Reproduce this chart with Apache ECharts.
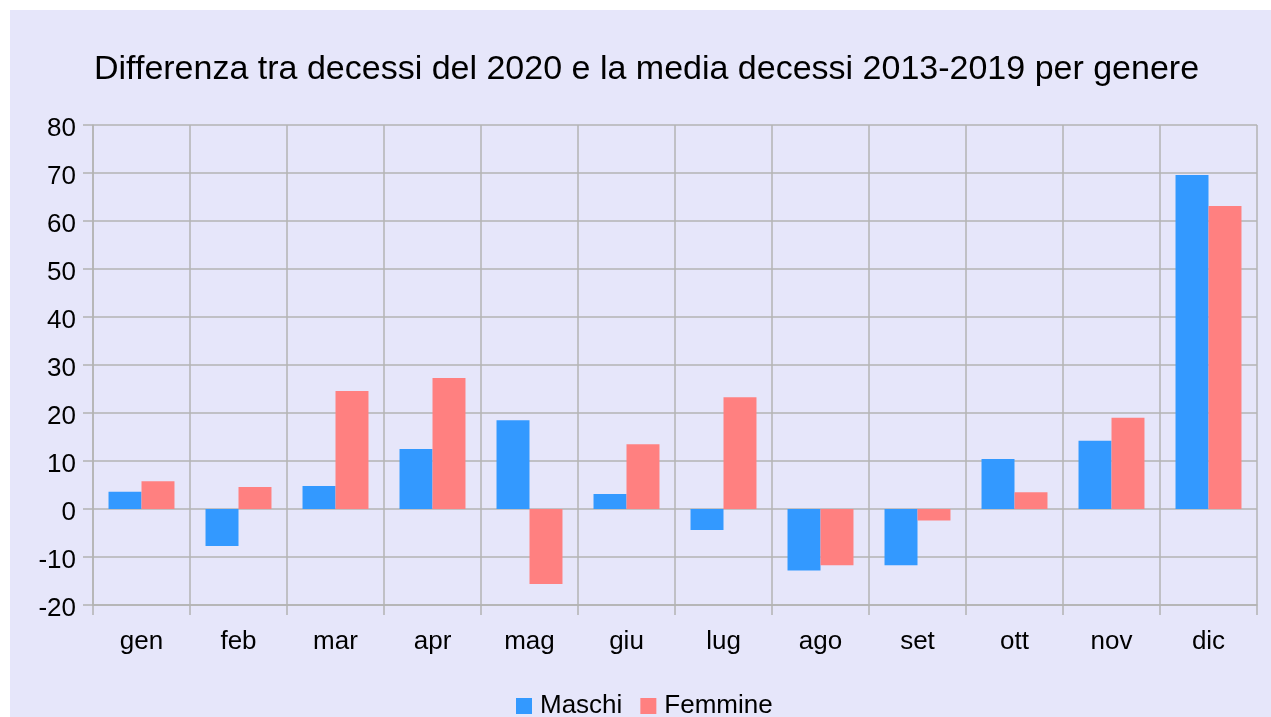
<!DOCTYPE html>
<html>
<head>
<meta charset="utf-8">
<script src="https://cdn.jsdelivr.net/npm/echarts@6/dist/echarts.min.js"></script>
<style>
html,body{margin:0;padding:0;background:#ffffff;}
#bg{position:absolute;left:10px;top:10px;width:1261px;height:707px;background:#e6e6fa;}
#chart{position:absolute;left:0;top:0;width:1271px;height:717px;}
</style>
</head>
<body>
<div id="bg"></div>
<div id="chart"></div>
<script>
const categories = ['gen','feb','mar','apr','mag','giu','lug','ago','set','ott','nov','dic'];
const maschi = [3.6, -7.7, 4.8, 12.5, 18.5, 3.1, -4.4, -12.8, -11.7, 10.4, 14.2, 69.6];
const femmine = [5.8, 4.6, 24.6, 27.3, -15.6, 13.5, 23.3, -11.7, -2.4, 3.5, 19.0, 63.1];
const titleText = 'Differenza tra decessi del 2020 e la media decessi 2013-2019 per genere';

const chart = echarts.init(document.getElementById('chart'));
const font = 'Liberation Sans, Arial, sans-serif';
const gridColor = '#b3b3b3';
chart.setOption({
  backgroundColor: 'transparent',
  animation: false,
  textStyle: {fontFamily: font},
  title: {
    text: titleText,
    left: 89, top: 48,
    textStyle: {fontFamily: font, fontSize: 34, fontWeight: 'normal', color: '#000'}
  },
  legend: {
    top: 688, left: 511,
    icon: 'rect', itemWidth: 16, itemHeight: 16, itemGap: 18,
    textStyle: {fontFamily: font, fontSize: 26, color: '#000', padding: [0,0,0,3]},
    data: ['Maschi','Femmine']
  },
  grid: {left: 93, right: 14, top: 125, bottom: 112, containLabel: false},
  xAxis: {
    type: 'category',
    data: categories,
    axisLine: {show: true, onZero: false, lineStyle: {color: gridColor, width: 1.5}},
    axisTick: {show: true, length: 10, lineStyle: {color: gridColor, width: 1.5}},
    splitLine: {show: true, lineStyle: {color: gridColor, width: 1.5}},
    axisLabel: {fontFamily: font, fontSize: 26, color: '#000', margin: 24}
  },
  yAxis: {
    type: 'value',
    min: -20, max: 80, interval: 10,
    axisLine: {show: true, lineStyle: {color: gridColor, width: 1.5}},
    axisTick: {show: true, length: 10, lineStyle: {color: gridColor, width: 1.5}},
    splitLine: {show: true, lineStyle: {color: gridColor, width: 1.5}},
    axisLabel: {
      margin: 17,
      formatter: '{v|{value}}',
      rich: {v: {fontFamily: font, fontSize: 26, color: '#000', padding: [7,0,0,0]}}
    }
  },
  series: [
    {name: 'Maschi', type: 'bar', data: maschi, itemStyle: {color: '#3399ff'},
     barGap: '0%', barCategoryGap: '32%'},
    {name: 'Femmine', type: 'bar', data: femmine, itemStyle: {color: '#ff8080'},
     barGap: '0%', barCategoryGap: '32%'}
  ]
});
</script>
</body>
</html>
